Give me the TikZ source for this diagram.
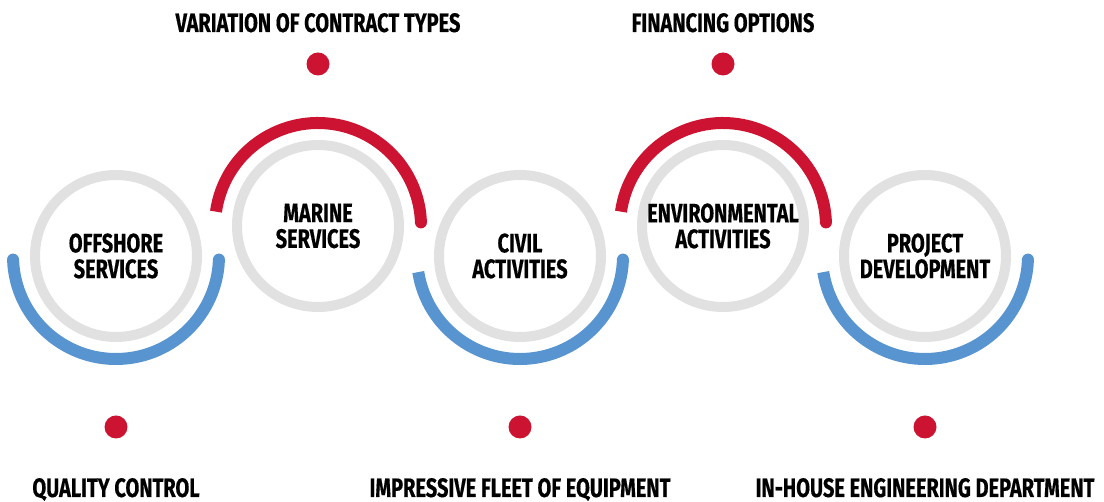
\documentclass[tikz,border=0pt]{standalone}
\usepackage{fontspec}
\setmainfont[FakeStretch=0.75,BoldFeatures={FakeBold=0.4}]{Fira Sans}
\definecolor{arcred}{HTML}{CC1432}
\definecolor{arcblue}{HTML}{5894D0}
\definecolor{ringgray}{HTML}{E1E1E1}
\begin{document}
\begin{tikzpicture}[x=0.75pt,y=0.75pt,declare function={ringr=81;arcr=103;},line join=round,
    lab/.style={font=\bfseries\fontsize{20}{19.3}\selectfont,align=center,inner sep=0pt},
    dot/.style={circle,fill=arcred,minimum size=17.25pt,inner sep=0pt}]
  \useasboundingbox (0,0) rectangle (1104,502);
  \foreach \x/\y/\z in {116/246/O,318/276/M,520/246/C,723/276/E,925/246/P}{
      \path (\x,\y) coordinate (\z);
      \draw[ringgray,line width=7.5pt] (\z) circle (ringr);
  }
  % blue arcs below, red arcs above
  \draw[arcblue,line width=9pt,line cap=round] (O) ++(182:arcr) arc[start angle=182,end angle=358,radius=arcr];
  \foreach \z in {C,P}{
      \draw[arcblue,line width=9pt] (\z) ++(189:arcr) arc[start angle=189,end angle=358,radius=arcr];
      \fill[arcblue] (\z) ++(358:arcr) circle (4.5pt);
  }
  \foreach \z in {M,E}{
      \draw[arcred,line width=9pt] (\z) ++(172:arcr) arc[start angle=172,end angle=2,radius=arcr];
      \fill[arcred] (\z) ++(2:arcr) circle (4.5pt);
  }
  \foreach \z/\t in {O/{OFFSHORE\\SERVICES},M/{MARINE\\SERVICES},C/{CIVIL\\ACTIVITIES},
      E/{ENVIRONMENTAL\\ACTIVITIES},P/{PROJECT\\DEVELOPMENT}}{
      \node[lab] (\z-lab) at (\z) {\t};
  }
  % dots and outer labels
  \foreach \x/\y/\b/\t [count=\i] in {318/438/470/{VARIATION OF CONTRACT TYPES},723/438/470/{FINANCING OPTIONS},
      116/75/5/{QUALITY CONTROL},520/75/5/{IMPRESSIVE FLEET OF EQUIPMENT},925/75/5/{IN-HOUSE ENGINEERING DEPARTMENT}}{
      \node[dot] (dot\i) at (\x,\y) {};
      \node[lab,anchor=base] (item\i) at (\x,\b) {\t};
  }
\end{tikzpicture}
\end{document}
